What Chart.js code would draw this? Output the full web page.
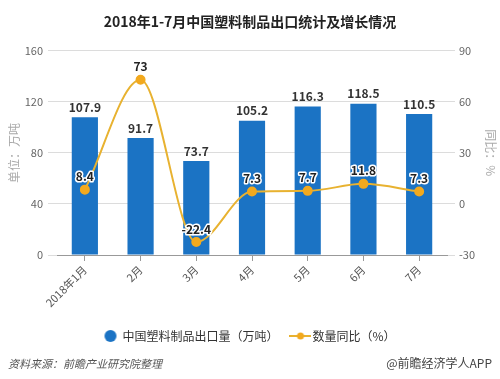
<!DOCTYPE html>
<html>
<head>
<meta charset="utf-8">
<script src="https://cdn.jsdelivr.net/npm/chart.js@4/dist/chart.umd.min.js"></script>
<style>
  html, body { margin: 0; padding: 0; background: #fff; }
  #wrap { position: relative; width: 500px; height: 379px; }
  #c { position: absolute; left: 0; top: 0; }
  .foot { position: absolute; top: 354px; font-family: "Noto Sans CJK SC", sans-serif; font-size: 12px; color: #555; white-space: nowrap; }
  #src { left: 8px; font-style: italic; font-size: 11px; top: 355px; }
  #app { right: 8px; color: #444; }
</style>
</head>
<body>
<div id="wrap">
  <canvas id="c" width="500" height="379"></canvas>
  <div class="foot" id="src">资料来源：前瞻产业研究院整理</div>
  <div class="foot" id="app">@前瞻经济学人APP</div>
</div>
<script>
const categories = ["2018年1月", "2月", "3月", "4月", "5月", "6月", "7月"];
const exportVolume = [107.9, 91.7, 73.7, 105.2, 116.3, 118.5, 110.5];
const yoyGrowth = [8.4, 73, -22.4, 7.3, 7.7, 11.8, 7.3];
const leftTicks = [0, 40, 80, 120, 160];
const rightTicks = [-30, 0, 30, 60, 90];

const FONT = '"Noto Sans CJK SC", "Noto Sans", sans-serif';
const BLUE = '#1b73c4';
const GOLD = '#e8b230';
const DOT = '#f2a91e';

function legendIcon(kind) {
  const cv = document.createElement('canvas');
  if (kind === 'bar') {
    cv.width = 14; cv.height = 14;
    const g = cv.getContext('2d');
    g.fillStyle = BLUE;
    g.beginPath(); g.arc(7, 7, 6, 0, Math.PI * 2); g.fill();
  } else {
    cv.width = 22; cv.height = 10;
    const g = cv.getContext('2d');
    g.strokeStyle = GOLD; g.lineWidth = 2;
    g.beginPath(); g.moveTo(0, 5); g.lineTo(22, 5); g.stroke();
    g.fillStyle = DOT;
    g.beginPath(); g.arc(11, 5, 3.5, 0, Math.PI * 2); g.fill();
  }
  return cv;
}

const labelPlugin = {
  id: 'valueLabels',
  afterDatasetsDraw(chart) {
    const ctx = chart.ctx;
    ctx.save();
    ctx.textAlign = 'center';
    ctx.textBaseline = 'middle';
    const barMeta = chart.getDatasetMeta(0);
    ctx.font = 'bold 12px ' + FONT;
    ctx.fillStyle = '#333';
    barMeta.data.forEach((el, i) => {
      ctx.fillText(String(exportVolume[i]), el.x, el.y - 10);
    });
    const lineMeta = chart.getDatasetMeta(1);
    lineMeta.data.forEach((el, i) => {
      const t = String(yoyGrowth[i]);
      ctx.lineWidth = 3;
      ctx.strokeStyle = '#fff';
      ctx.lineJoin = 'round';
      ctx.strokeText(t, el.x, el.y - 13);
      ctx.fillStyle = '#222';
      ctx.fillText(t, el.x, el.y - 13);
    });
    ctx.restore();
  }
};

new Chart(document.getElementById('c'), {
  data: {
    labels: categories,
    datasets: [
      {
        type: 'bar',
        label: '中国塑料制品出口量（万吨）',
        data: exportVolume,
        backgroundColor: BLUE,
        yAxisID: 'y',
        barPercentage: 0.47,
        categoryPercentage: 1,
        order: 2
      },
      {
        type: 'line',
        label: '数量同比（%）',
        data: yoyGrowth,
        borderColor: GOLD,
        backgroundColor: DOT,
        pointBackgroundColor: DOT,
        pointBorderColor: DOT,
        pointRadius: 4,
        borderWidth: 2,
        cubicInterpolationMode: 'monotone',
        yAxisID: 'y1',
        order: 1
      }
    ]
  },
  options: {
    responsive: false,
    animation: false,
    layout: { padding: { left: 0, right: 0, top: 0, bottom: 27 } },
    plugins: {
      tooltip: { enabled: false },
      title: {
        display: true,
        text: '2018年1-7月中国塑料制品出口统计及增长情况',
        color: '#222',
        font: { family: FONT, size: 14, weight: 'bold' },
        padding: { top: 13, bottom: 21 }
      },
      legend: {
        position: 'bottom',
        labels: {
          usePointStyle: true,
          boxWidth: 12,
          boxHeight: 12,
          padding: 16,
          color: '#333',
          font: { family: FONT, size: 12 },
          sort: (a, b) => a.datasetIndex - b.datasetIndex,
          generateLabels(chart) {
            return chart.data.datasets.map((ds, i) => ({
              text: ds.label,
              datasetIndex: i,
              pointStyle: legendIcon(i === 0 ? 'bar' : 'line'),
              fillStyle: i === 0 ? BLUE : DOT,
              strokeStyle: 'rgba(0,0,0,0)',
              lineWidth: 0,
              fontColor: '#333',
              hidden: false
            }));
          }
        }
      }
    },
    scales: {
      x: {
        offset: true,
        afterFit(s) { s.height = 59; },
        grid: { display: true, drawOnChartArea: false, drawTicks: true, tickLength: 6, offset: false, color: '#999' },
        border: { display: true, color: '#999' },
        ticks: {
          color: '#555',
          font: { family: FONT, size: 11 },
          maxRotation: 45,
          minRotation: 45,
          padding: 2
        }
      },
      y: {
        position: 'left',
        min: 0,
        max: 160,
        afterFit(s) { s.width = 57; },
        afterBuildTicks(s) { s.ticks = leftTicks.map(v => ({ value: v })); },
        grid: { color: '#dcdcdc', drawTicks: true, tickLength: 9 },
        border: { display: false },
        ticks: { color: '#666', font: { family: FONT, size: 11 }, padding: 5 },
        title: { display: true, text: '单位：万吨', color: '#aaa', font: { family: FONT, size: 12 }, padding: { top: 7, bottom: 2 } }
      },
      y1: {
        position: 'right',
        min: -30,
        max: 90,
        afterFit(s) { s.width = 53; },
        afterBuildTicks(s) { s.ticks = rightTicks.map(v => ({ value: v })); },
        grid: { drawOnChartArea: false, drawTicks: true, tickLength: 8, color: '#dcdcdc' },
        border: { display: false },
        ticks: { color: '#666', font: { family: FONT, size: 11 }, padding: 4 },
        title: { display: true, text: '同比：%', color: '#aaa', font: { family: FONT, size: 12 }, padding: { top: 2, bottom: 2 } }
      }
    }
  },
  plugins: [labelPlugin]
});
</script>
</body>
</html>
